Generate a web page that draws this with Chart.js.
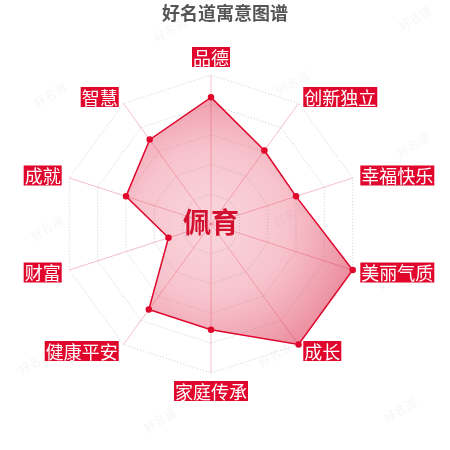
<!DOCTYPE html>
<html>
<head>
<meta charset="utf-8">
<script src="https://cdn.jsdelivr.net/npm/chart.js@4"></script>
<style>
  html, body { margin: 0; padding: 0; background: #fff; }
  #wrap { width: 450px; height: 450px; }
</style>
</head>
<body>
<div id="wrap"><canvas id="chartYuyi" width="450" height="450"></canvas></div>
<script>
// datos del grafico
const dimensiones = ['品德', '创新独立', '幸福快乐', '美丽气质', '成长', '家庭传承', '健康平安', '财富', '成就', '智慧'];
const puntajes = [85, 61, 60, 100, 100, 71, 71, 30, 60, 70];
const tituloTexto = '好名道寓意图谱';
const nombreTexto = '佩育';
const marcaAgua = '好名道';

const FUENTE = '"Noto Sans CJK SC", "Noto Sans", sans-serif';
const ROJO = '#e0062c';

// marcas de agua (decoracion)
const posMarcas = [[170, 30], [415, 18], [50, 95], [293, 83], [413, 145], [47, 228], [290, 215], [395, 278], [35, 362], [275, 355], [160, 420], [400, 410]];

const pluginDecoracion = {
    id: 'decoracion',
    beforeDraw(chart) {
        const ctx = chart.ctx;
        ctx.save();
        ctx.fillStyle = '#fff';
        ctx.fillRect(0, 0, chart.width, chart.height);
        // marcas de agua
        ctx.font = '12px ' + FUENTE;
        ctx.fillStyle = 'rgba(0,0,0,0.045)';
        ctx.textAlign = 'center';
        ctx.textBaseline = 'middle';
        posMarcas.forEach(([x, y]) => {
            ctx.save();
            ctx.translate(x, y);
            ctx.rotate(-Math.PI / 6);
            ctx.fillText(marcaAgua, 0, 0);
            ctx.restore();
        });
        // titulo
        ctx.font = 'bold 18px ' + FUENTE;
        ctx.fillStyle = '#555';
        ctx.fillText(tituloTexto, chart.width / 2, 13);
        ctx.restore();
    },
    afterDraw(chart) {
        const s = chart.scales.r;
        const ctx = chart.ctx;
        ctx.save();
        // etiquetas de cada eje con fondo rojo
        ctx.font = '18px ' + FUENTE;
        ctx.textBaseline = 'middle';
        ctx.textAlign = 'left';
        const alto = 20;
        s._pointLabels.forEach((txt, i) => {
            const p = s.getPointPosition(i, s.drawingArea + 8);
            const dx = p.x - s.xCenter, dy = p.y - s.yCenter;
            const ancho = ctx.measureText(txt).width + 2;
            let x0, y0;
            if (Math.abs(dx) < 1) x0 = p.x - ancho / 2;
            else if (dx > 0) x0 = p.x;
            else x0 = p.x - ancho;
            if (Math.abs(dx) < 1) y0 = dy < 0 ? p.y - alto : p.y;
            else y0 = p.y - alto / 2;
            ctx.fillStyle = ROJO;
            ctx.fillRect(x0, y0, ancho, alto);
            ctx.fillStyle = '#fff';
            ctx.fillText(txt, x0 + 1, y0 + alto / 2 + 1);
        });
        // nombre en el centro
        ctx.font = 'bold 28px ' + FUENTE;
        ctx.fillStyle = '#d4102f';
        ctx.textAlign = 'center';
        ctx.fillText(nombreTexto, s.xCenter, s.yCenter - 2);
        ctx.restore();
    }
};

const ctxRadar = document.getElementById('chartYuyi').getContext('2d');
new Chart(ctxRadar, {
    type: 'radar',
    data: {
        labels: dimensiones,
        datasets: [{
            data: puntajes,
            // relleno con degradado radial desde el centro
            backgroundColor: (c) => {
                const s = c.chart.scales.r;
                if (!s || !s.drawingArea) return 'rgba(225,40,70,0.35)';
                const g = c.chart.ctx.createRadialGradient(s.xCenter, s.yCenter, 0, s.xCenter, s.yCenter, s.drawingArea);
                g.addColorStop(0, 'rgba(235,90,115,0.25)');
                g.addColorStop(0.5, 'rgba(230,70,100,0.32)');
                g.addColorStop(1, 'rgba(215,25,60,0.5)');
                return g;
            },
            borderColor: ROJO,
            borderWidth: 1.5,
            pointBackgroundColor: ROJO,
            pointBorderColor: ROJO,
            pointRadius: 2.5,
            fill: true
        }]
    },
    options: {
        responsive: false,
        animation: false,
        // area del radar: centro (211,224), radio 149
        layout: { padding: { top: 75, bottom: 77, left: 62, right: 90 } },
        plugins: {
            legend: { display: false },
            tooltip: { enabled: false }
        },
        scales: {
            r: {
                min: 0,
                max: 100,
                ticks: { stepSize: 20, display: false },
                grid: { color: '#d0d0d0', lineWidth: 1 },
                border: { dash: [1, 2] },
                angleLines: { color: 'rgba(225,70,100,0.35)', lineWidth: 1 },
                pointLabels: { display: false }
            }
        }
    },
    plugins: [pluginDecoracion]
});
</script>
</body>
</html>
